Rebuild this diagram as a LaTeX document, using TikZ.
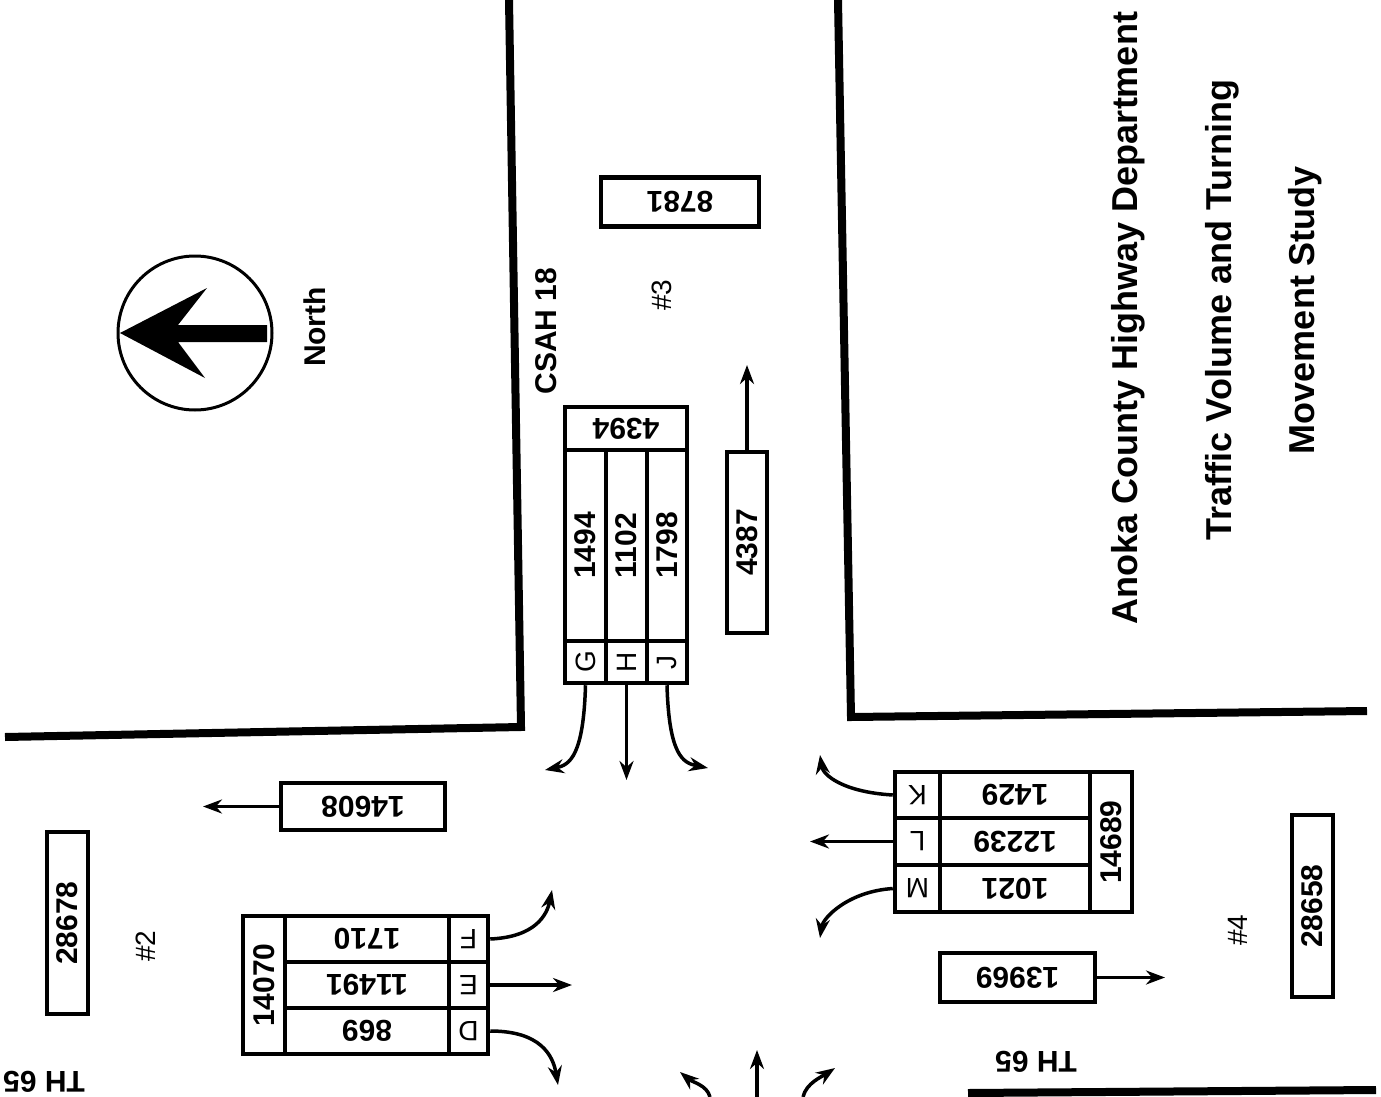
\documentclass[tikz,border=0pt]{standalone}
\usepackage{fontspec}
\setmainfont{Liberation Sans}
\usepackage{graphicx}
\usetikzlibrary{arrows.meta}
\newcommand\numfont{\fontsize{30}{34}\selectfont\bfseries}
\newcommand\letfont{\fontsize{28}{32}\selectfont}
\newcommand\titlefont{\fontsize{36}{40}\selectfont\bfseries}
\newcommand\rup[1]{\rotatebox{90}{#1}}
\newcommand\rflip[1]{\rotatebox{180}{#1}}
\tikzset{
  cell/.style={draw, line width=4.5pt, inner sep=0pt, font=\numfont},
  letter/.style={cell, font=\letfont},
  lab/.style={font=\numfont, inner sep=0pt},
  site/.style={font=\letfont, inner sep=0pt},
  ttl/.style={font=\titlefont, inner sep=0pt},
  road/.style={line width=8pt},
  arr/.style={-{Stealth[length=19pt,width=14pt]}, line width=3.5pt}
}

\begin{document}
\begin{tikzpicture}[x=1pt, y=-1pt]
  \useasboundingbox (0,0) rectangle (1381,1097);
  % road edges
  \draw[road] (509,0) -- (521,727) -- (5,737);
  \draw[road] (838,0) -- (851,717) -- (1367,711);
  \draw[road] (968,1093) -- (1376,1090);
  % north arrow
  \node[draw, circle, line width=3pt, minimum size=154pt] (compass) at (195,333) {};
  \fill (120,333) -- (207,288) -- (178,325) -- (267,325) -- (267,342)
        -- (178,342) -- (205,378) -- cycle;
  \node[lab] (north) at (315,327) {\rup{North}};
  % title
  \node[ttl] (t1) at (1128,318) {\rup{Anoka County Highway Department}};
  \node[ttl] (t2) at (1222,310) {\rup{Traffic Volume and Turning}};
  \node[ttl] (t3) at (1305,310) {\rup{Movement Study}};
  % leg #3: CSAH 18
  \node[lab] (csah) at (546,331) {\rup{CSAH 18}};
  \node[site] (s3) at (662,295) {\rup{\#3}};
  \node[cell, minimum width=158pt, minimum height=49pt] (n8781) at (680,202) {\rflip{8781}};
  \node[cell, minimum width=122pt, minimum height=43pt] (n4394) at (626,428.5) {\rflip{4394}};
  \node[cell, minimum width=41pt, minimum height=191pt] (g) at (585.5,545.5) {\rup{1494}};
  \node[cell, minimum width=41pt, minimum height=191pt] (h) at (626.5,545.5) {\rup{1102}};
  \node[cell, minimum width=40pt, minimum height=191pt] (j) at (667,545.5) {\rup{1798}};
  \node[letter, minimum width=41pt, minimum height=42pt] (gl) at (585.5,662) {\rup{G}};
  \node[letter, minimum width=41pt, minimum height=42pt] (hl) at (626.5,662) {\rup{H}};
  \node[letter, minimum width=40pt, minimum height=42pt] (jl) at (667,662) {\rup{J}};
  \node[cell, minimum width=40pt, minimum height=181pt] (n4387) at (747,542.5) {\rup{4387}};
  % leg #2: TH 65 west
  \node[lab] (th2) at (44,1082) {\rflip{TH 65}};
  \node[site] (s2) at (146,946) {\rup{\#2}};
  \node[cell, minimum width=41pt, minimum height=182pt] (n28678) at (67.5,923) {\rup{28678}};
  \node[cell, minimum width=164pt, minimum height=47pt] (n14608) at (363,806.5) {\rflip{14608}};
  \node[cell, minimum width=42pt, minimum height=138pt] (n14070) at (264,985) {\rup{14070}};
  \node[cell, minimum width=164pt, minimum height=46pt] (f) at (367,939) {\rflip{1710}};
  \node[cell, minimum width=164pt, minimum height=46pt] (e) at (367,985) {\rflip{11491}};
  \node[cell, minimum width=164pt, minimum height=46pt] (d) at (367,1031) {\rflip{869}};
  \node[letter, minimum width=39pt, minimum height=46pt] (fl) at (468.5,939) {\rflip{F}};
  \node[letter, minimum width=39pt, minimum height=46pt] (el) at (468.5,985) {\rflip{E}};
  \node[letter, minimum width=39pt, minimum height=46pt] (dl) at (468.5,1031) {\rflip{D}};
  % leg #4: TH 65 east
  \node[lab] (th4) at (1036,1062) {\rflip{TH 65}};
  \node[site] (s4) at (1238,930) {\rup{\#4}};
  \node[cell, minimum width=41pt, minimum height=182pt] (n28658) at (1312.5,906) {\rup{28658}};
  \node[cell, minimum width=155pt, minimum height=49pt] (n13969) at (1017.5,977.5) {\rflip{13969}};
  \node[cell, minimum width=42pt, minimum height=140pt] (n14689) at (1111,842) {\rup{14689}};
  \node[cell, minimum width=150pt, minimum height=46pt] (k) at (1015,795) {\rflip{1429}};
  \node[cell, minimum width=150pt, minimum height=47pt] (l) at (1015,841.5) {\rflip{12239}};
  \node[cell, minimum width=150pt, minimum height=47pt] (m) at (1015,888.5) {\rflip{1021}};
  \node[letter, minimum width=45pt, minimum height=46pt] (kl) at (917.5,795) {\rflip{K}};
  \node[letter, minimum width=45pt, minimum height=47pt] (ll) at (917.5,841.5) {\rflip{L}};
  \node[letter, minimum width=45pt, minimum height=47pt] (ml) at (917.5,888.5) {\rflip{M}};
  % arrow ends
  \coordinate (t4387) at (747,365);
  \coordinate (tg) at (545,770);
  \coordinate (th) at (626.5,780);
  \coordinate (tj) at (708,768);
  \coordinate (t14608) at (203,806.5);
  \coordinate (tf) at (552,890);
  \coordinate (te) at (572,985);
  \coordinate (td) at (558,1085);
  \coordinate (tk) at (820,755);
  \coordinate (tl) at (810,841.5);
  \coordinate (tm) at (820,938);
  \coordinate (t13969) at (1165,977.5);
  \coordinate (b1) at (710,1097);
  \coordinate (b2) at (757,1097);
  \coordinate (b3) at (803,1097);
  \coordinate (tb1) at (680,1072);
  \coordinate (tb2) at (757,1050);
  \coordinate (tb3) at (835,1068);
  % movements
  \draw[arr] (n4387.north) -- (t4387);
  \draw[arr] (gl.south) .. controls +(-2,70) and +(25,-5) .. (tg);
  \draw[arr] (hl.south) -- (th);
  \draw[arr] (jl.south) .. controls +(2,70) and +(-25,-5) .. (tj);
  \draw[arr] (n14608.west) -- (t14608);
  \draw[arr] (fl.east) .. controls +(45,-2) and +(-5,25) .. (tf);
  \draw[arr] (el.east) -- (te);
  \draw[arr] (dl.east) .. controls +(50,0) and +(-5,-30) .. (td);
  \draw[arr] (kl.west) .. controls +(-50,-3) and +(3,20) .. (tk);
  \draw[arr] (ll.west) -- (tl);
  \draw[arr] (ml.west) .. controls +(-45,3) and +(3,-20) .. (tm);
  \draw[arr] (n13969.east) -- (t13969);
  \draw[arr] (b1) .. controls +(-3,-12) and +(12,10) .. (tb1);
  \draw[arr] (b2) -- (tb2);
  \draw[arr] (b3) .. controls +(3,-14) and +(-12,8) .. (tb3);
\end{tikzpicture}
\end{document}
